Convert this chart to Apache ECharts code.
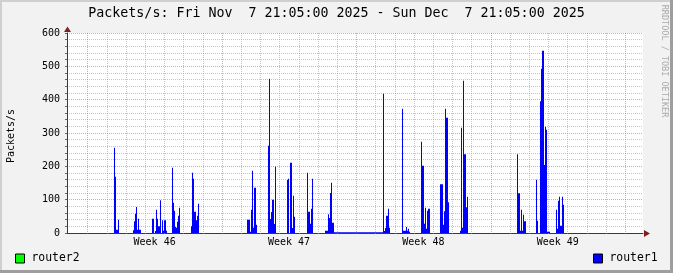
<!DOCTYPE html>
<html><head><meta charset="utf-8">
<script src="https://cdn.jsdelivr.net/npm/echarts@6/dist/echarts.min.js"></script>
<style>html,body{margin:0;padding:0;background:#f2f2f2}#c{width:673px;height:273px}</style>
</head><body><div id="c"></div>
<script>
// ---- texts ----
const titleText = 'Packets/s: Fri Nov  7 21:05:00 2025 - Sun Dec  7 21:05:00 2025';
const yTitle = 'Packets/s';
const watermark = 'RRDTOOL / TOBI OETIKER';
const seriesNames = ['router2', 'router1'];
// ---- axes ----
const spanHours = 720;          // one month shown, in hours from the left edge
const binHours = 1.25;          // one consolidated sample per pixel column
const firstDayGridHour = 25.5;  // first day grid line (a week boundary)
const weekLabels = ['Week 46', 'Week 47', 'Week 48', 'Week 49'];
const yTickValues = [0, 100, 200, 300, 400, 500, 600];
// ---- data (packets/s), bursts: start hour + consecutive samples ----
const router1Start = [58.75, 82.5, 106.25, 131.25, 155, 225, 251.25, 275, 300, 322.5, 333.75,
  395, 418.75, 442.5, 466.25, 491.25, 562.5, 586.25, 611.25];
const router1Values = [
  [256, 169, 10, 10, 40],
  [8, 35, 58, 78, 10, 43, 10, 10],
  [43, 43, 0, 6, 70, 43, 20, 20, 98, 0, 38, 7, 38, 38, 7],
  [196, 91, 67, 18, 16, 34, 52, 76],
  [20, 181, 163, 64, 64, 38, 52, 88],
  [40, 40, 40, 4, 70, 187, 16, 136, 136, 25],
  [262, 463, 42, 63, 100, 100, 27, 199],
  [159, 163, 0, 211, 211, 15, 112, 49],
  [181, 64, 64, 28, 73, 163],
  [7, 7, 7, 56, 45, 120, 151, 31, 31],
  [2, 2, 2, 2, 2, 2, 2, 2, 2, 2, 2, 2, 2, 2, 2, 2, 2, 2, 2, 2, 2, 2, 2, 2, 2,
   2, 2, 2, 2, 2, 2, 2, 2, 2, 2, 2, 2, 2, 2, 2, 2, 2, 2, 2, 2, 2, 2, 2, 2],
  [418, 6, 15, 52, 52, 73, 16],
  [373, 7, 7, 7, 18, 7, 13, 4],
  [274, 202, 202, 28, 76, 13, 67, 73, 73],
  [146, 146, 146, 25, 65, 373, 346, 346, 92],
  [7, 316, 16, 457, 236, 236, 77, 109],
  [236, 119, 119, 7, 70, 7, 55, 35, 35],
  [160, 37, 0, 0, 395, 493, 547, 547, 204, 319, 310, 4, 4, 4],
  [70, 13, 97, 109, 22, 22, 109, 85]
];
const router2Start = [];
const router2Values = [];

// ---- build ----
function toPoints(starts, values) {
  const n = Math.round(spanHours / binHours);
  const v = new Array(n).fill(0);
  starts.forEach((s, k) => {
    const i0 = Math.round(s / binHours);
    values[k].forEach((y, j) => { v[i0 + j] = y; });
  });
  return v.map((y, i) => [i * binHours, y]);
}
const dayHours = [];
for (let h = firstDayGridHour; h <= spanHours; h += 24) dayHours.push(h);
const weekHours = weekLabels.map((_, k) => firstDayGridHour + 84 + 168 * k);

const MONO = 'DejaVu Sans Mono';
const GL = 67, GT = 33, GW = 576, GH = 200, W = 673, H = 273;
const MINOR = 'rgba(150,150,150,0.55)', MAJOR = 'rgba(222,79,79,0.55)';
const AXIS = '#3a3a3a', ARROW = '#801f1f';

function renderBins(params, api) {
  const x0 = api.value(0), y = api.value(1);
  if (!(y > 0)) return null;
  const p0 = api.coord([x0, y]);
  const p1 = api.coord([x0 + binHours, 0]);
  return {type: 'rect', shape: {x: p0[0], y: p0[1], width: p1[0] - p0[0], height: p1[1] - p0[1]},
          style: {fill: api.visual('color')}};
}
function renderGrid(params, api) {
  const h = api.value(0);
  const top = api.coord([h, 600]);
  const bot = api.coord([h, 0]);
  const x = Math.round(top[0]) + 0.5;
  const major = api.value(1) === 1;
  return {type: 'line', silent: true,
          shape: {x1: x, y1: top[1], x2: x, y2: bot[1] + 2},
          style: {stroke: major ? MAJOR : MINOR, lineWidth: 1, lineDash: [1, 1]}};
}

const chart = echarts.init(document.getElementById('c'), null, {renderer: 'canvas'});
chart.setOption({
  animation: false,
  backgroundColor: '#f2f2f2',
  grid: {left: GL, top: GT, width: GW, height: GH, containLabel: false,
         show: true, backgroundColor: '#ffffff', borderWidth: 0},
  color: ['#00ff00', '#0000ff'],
  legend: [
    {data: [seriesNames[0]], left: 15, top: 253, padding: 0, icon: 'rect', itemWidth: 9, itemHeight: 9,
     itemStyle: {borderColor: '#000', borderWidth: 1},
     textStyle: {fontFamily: MONO, fontSize: 11.4, color: '#000', padding: [0, 0, 0, 2]}, selectedMode: false},
    {data: [seriesNames[1]], left: 593, top: 253, padding: 0, icon: 'rect', itemWidth: 9, itemHeight: 9,
     itemStyle: {borderColor: '#000', borderWidth: 1},
     textStyle: {fontFamily: MONO, fontSize: 11.4, color: '#000', padding: [0, 0, 0, 2]}, selectedMode: false}
  ],
  xAxis: {
    type: 'value', min: 0, max: spanHours,
    axisLine: {show: true, lineStyle: {color: AXIS, width: 1}},
    axisTick: {show: false},
    axisLabel: {customValues: weekHours, margin: 4, fontFamily: MONO, fontSize: 10, color: '#000',
      formatter: v => { const k = weekHours.findIndex(h => Math.abs(h - v) < 0.01); return k >= 0 ? weekLabels[k] : ''; }},
    splitLine: {show: false}
  },
  yAxis: {
    type: 'value', min: 0, max: 600, interval: 20,
    axisLine: {show: true, lineStyle: {color: AXIS, width: 1}},
    axisTick: {show: true, length: 2, lineStyle: {color: '#666'}},
    axisLabel: {customValues: yTickValues, margin: 7, fontFamily: MONO, fontSize: 10, color: '#000'},
    splitLine: {show: true, lineStyle: {color: [MAJOR, MINOR, MINOR, MINOR, MINOR], type: [1, 1], width: 1}}
  },
  series: [
    {name: 'grid', type: 'custom', z: 1, silent: true, renderItem: renderGrid, legendHoverLink: false,
     data: dayHours.map((h, i) => [h, i % 7 === 0 ? 1 : 0])},
    {name: seriesNames[0], type: 'custom', z: 3, renderItem: renderBins, itemStyle: {color: '#00ff00'},
     data: toPoints(router2Start, router2Values)},
    {name: seriesNames[1], type: 'custom', z: 3, renderItem: renderBins, itemStyle: {color: '#0000ff'},
     data: toPoints(router1Start, router1Values)}
  ],
  graphic: [
    {type: 'rect', shape: {x: 0, y: 0, width: W, height: 2}, style: {fill: '#cfcfcf'}, silent: true},
    {type: 'rect', shape: {x: 0, y: 0, width: 2, height: H}, style: {fill: '#cfcfcf'}, silent: true},
    {type: 'rect', shape: {x: W - 3, y: 0, width: 3, height: H}, style: {fill: '#9e9e9e'}, silent: true},
    {type: 'rect', shape: {x: 0, y: H - 3, width: W, height: 3}, style: {fill: '#9e9e9e'}, silent: true},
    {type: 'text', x: 336.5, y: 14, silent: true,
     style: {text: titleText, font: '13.3px "' + MONO + '"', fill: '#000', align: 'center', verticalAlign: 'middle'}},
    {type: 'text', x: 11, y: 136, rotation: Math.PI / 2, silent: true,
     style: {text: yTitle, font: '10px "' + MONO + '"', fill: '#000', align: 'center', verticalAlign: 'middle'}},
    {type: 'text', x: 664, y: 61, rotation: -Math.PI / 2, silent: true,
     style: {text: watermark, font: '8.5px "' + MONO + '"', fill: '#ababab', align: 'center', verticalAlign: 'middle'}},
    {type: 'polygon', silent: true, z: 100,
     shape: {points: [[GL - 3, GT - 1], [GL + 4, GT - 1], [GL + 0.5, GT - 6.5]]}, style: {fill: ARROW}},
    {type: 'polygon', silent: true, z: 100,
     shape: {points: [[GL + GW + 1, GT + GH - 3], [GL + GW + 1, GT + GH + 4], [GL + GW + 7, GT + GH + 0.5]]}, style: {fill: ARROW}}
  ]
});
</script></body></html>
